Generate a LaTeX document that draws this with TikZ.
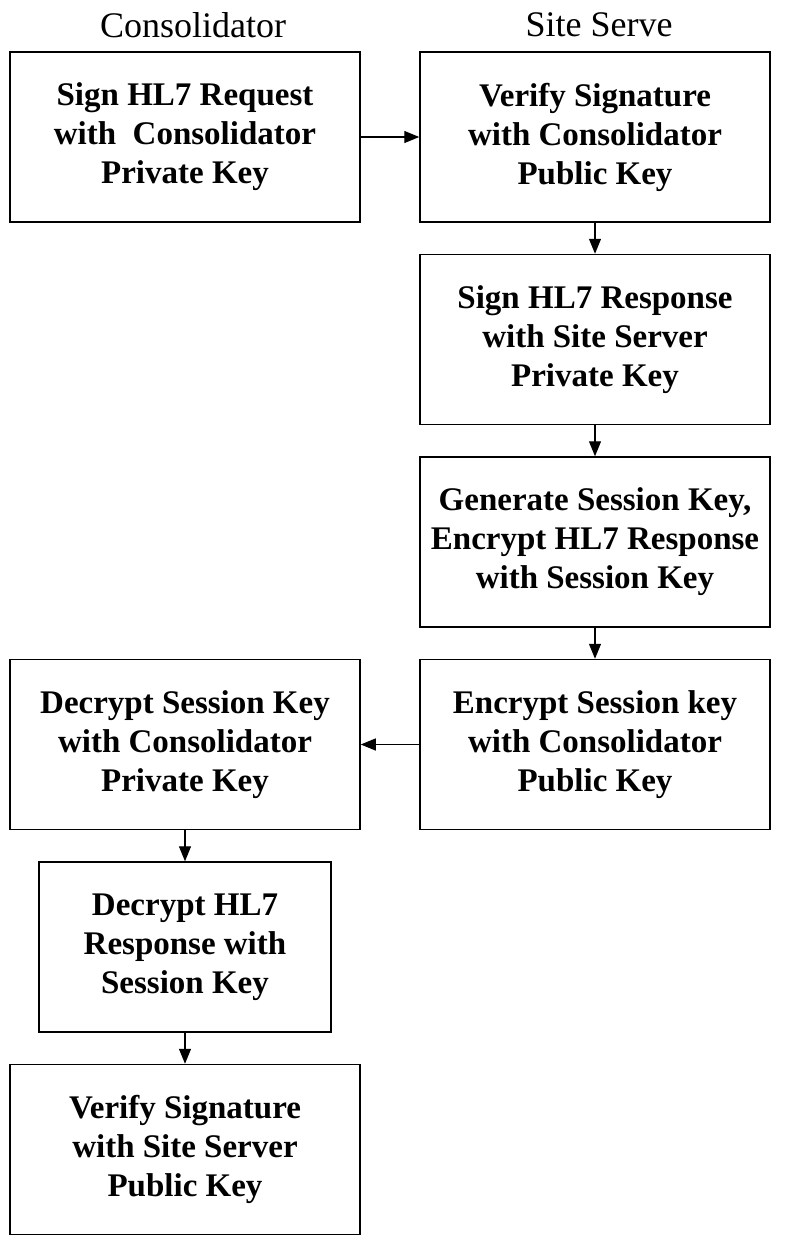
\documentclass[tikz,border=0pt]{standalone}
\usepackage{fontspec}
\setmainfont{Liberation Serif}
\usetikzlibrary{arrows.meta}

\begin{document}
\begin{tikzpicture}[node distance=202.5pt, auto,
        box/.style={rectangle, draw, line width=1.5pt, minimum width=350pt, minimum height=170pt, align=center, font=\bfseries\fontsize{33}{39}\selectfont},
        head/.style={font=\fontsize{36}{40}\selectfont},
        flow/.style={-{Triangle[length=15pt,width=12pt]}, line width=1.2pt}]
        \useasboundingbox (0pt,0pt) rectangle (800pt,-1242pt);

        % Kotak-kotak
        \node (signreq) [box] at (185pt,-137pt) {Sign HL7 Request\\with~ Consolidator\\Private Key};
        \node (verreq) [box, right of=signreq, xshift=207.5pt] {Verify Signature\\with Consolidator\\Public Key};
        \node (signresp) [box, below of=verreq] {Sign HL7 Response\\with Site Server\\Private Key};
        \node (genkey) [box, below of=signresp] {Generate Session Key,\\Encrypt HL7 Response\\with Session Key};
        \node (enckey) [box, below of=genkey] {Encrypt Session key\\with Consolidator\\Public Key};
        \node (deckey) [box, left of=enckey, xshift=-207.5pt] {Decrypt Session Key\\with Consolidator\\Private Key};
        \node (decresp) [box, below of=deckey, minimum width=292pt] {Decrypt HL7\\Response with\\Session Key};
        \node (verresp) [box, below of=decresp] {Verify Signature\\with Site Server\\Public Key};

        % Judul kolom
        \node (conshead) [head, above of=signreq, node distance=112pt, xshift=8pt] {Consolidator};
        \node (sitehead) [head, above of=verreq, node distance=112pt, xshift=4pt] {Site Serve};

        % Panah
        \draw [flow] (signreq) -- (verreq);
        \draw [flow] (verreq) -- (signresp);
        \draw [flow] (signresp) -- (genkey);
        \draw [flow] (genkey) -- (enckey);
        \draw [flow] (enckey) -- (deckey);
        \draw [flow] (deckey) -- (decresp);
        \draw [flow] (decresp) -- (verresp);
    \end{tikzpicture}
\end{document}
